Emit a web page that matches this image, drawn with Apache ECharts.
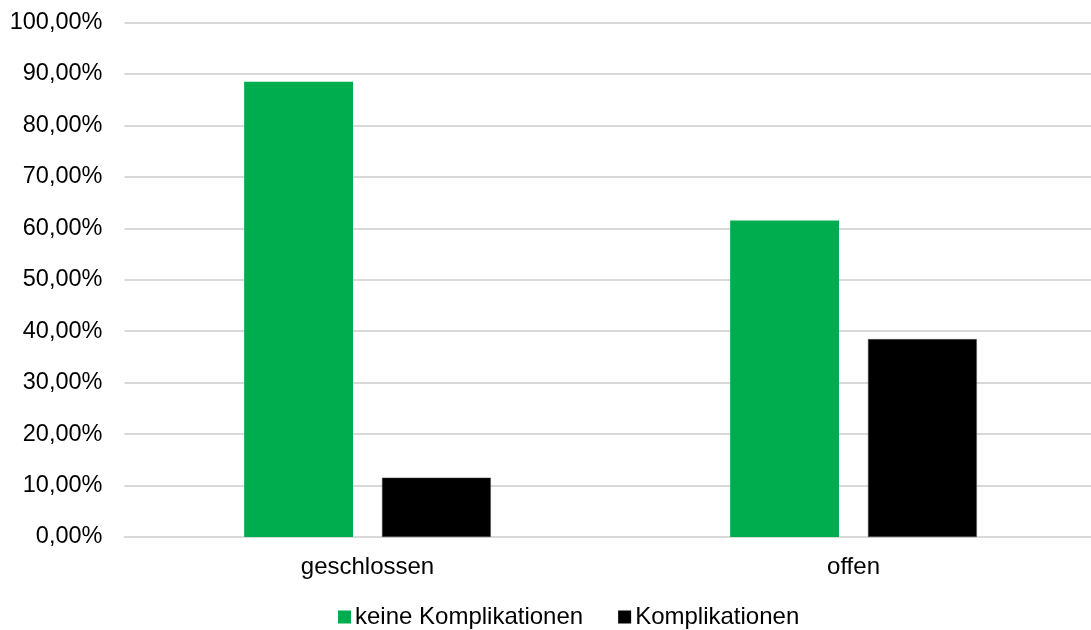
<!DOCTYPE html>
<html>
<head>
<meta charset="utf-8">
<script src="https://cdn.jsdelivr.net/npm/echarts@6/dist/echarts.min.js"></script>
<style>
  html, body { margin: 0; padding: 0; background: #fff; }
  #chart { width: 1091px; height: 630px; }
</style>
</head>
<body>
<div id="chart"></div>
<script>
// categories and values (percent)
const categories = ['geschlossen', 'offen'];
const keineKomplikationen = [88.46, 61.54];
const komplikationen = [11.54, 38.46];
const seriesNames = ['keine Komplikationen', 'Komplikationen'];

const chart = echarts.init(document.getElementById('chart'));
const font = 'Liberation Sans, Arial, sans-serif';

chart.setOption({
    animation: false,
    textStyle: { fontFamily: font },
    grid: {
        left: 124.5, width: 972, top: 22.5, bottom: 93,
        containLabel: false, outerBoundsMode: 'none'
    },
    legend: {
        top: 600,
        left: 333,
        itemWidth: 13,
        itemHeight: 13,
        itemGap: 35,
        icon: 'rect',
        itemStyle: { borderWidth: 0 },
        textStyle: { fontSize: 24, color: '#000', fontFamily: font, padding: [0, 0, 0, -1] },
        data: seriesNames
    },
    xAxis: {
        type: 'category',
        data: categories,
        axisLine: { lineStyle: { color: '#d9d9d9', width: 2 } },
        axisTick: { show: false },
        axisLabel: { fontSize: 24, color: '#000', margin: 18 }
    },
    yAxis: {
        type: 'value',
        min: 0,
        max: 100,
        interval: 10,
        axisLine: { show: false },
        axisTick: { show: false },
        splitLine: { lineStyle: { color: '#d9d9d9', width: 2 } },
        axisLabel: {
            fontSize: 23.5,
            color: '#000',
            margin: 22,
            formatter: v => v.toFixed(2).replace('.', ',') + '%'
        }
    },
    series: [
        {
            name: seriesNames[0],
            type: 'bar',
            data: keineKomplikationen,
            barWidth: '22.4%',
            barGap: '26.6%',
            itemStyle: { color: '#00ad4e' }
        },
        {
            name: seriesNames[1],
            type: 'bar',
            data: komplikationen,
            barWidth: '22.4%',
            itemStyle: { color: '#000000', borderColor: '#555', borderWidth: 0.5 }
        }
    ]
});
</script>
</body>
</html>
